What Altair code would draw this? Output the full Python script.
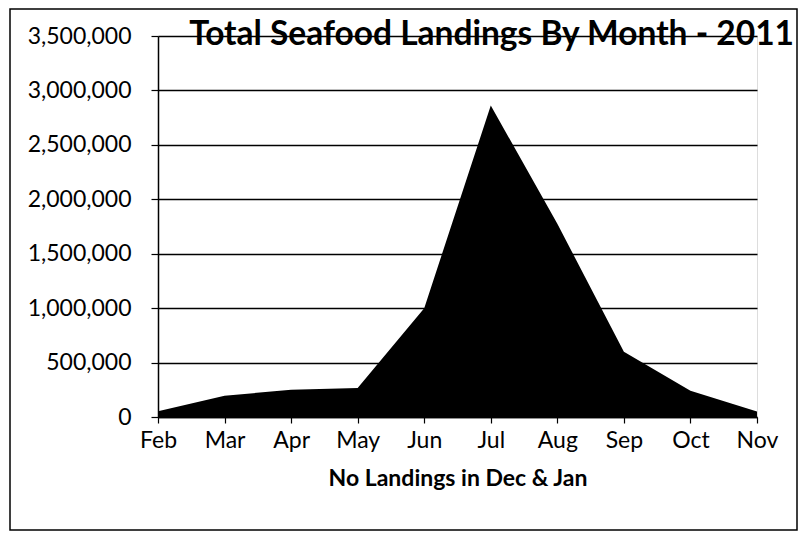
import altair as alt
import pandas as pd

months = ["Feb", "Mar", "Apr", "May", "Jun", "Jul", "Aug", "Sep", "Oct", "Nov"]
landings = [52000, 195000, 250000, 266000, 1000000, 2862000, 1775000, 600000, 240000, 50000]
y_ticks = [0, 500000, 1000000, 1500000, 2000000, 2500000, 3000000, 3500000]
title_text = "Total Seafood Landings By Month - 2011"
x_title = "No Landings in Dec & Jan"

FONT = "Lato"

df = pd.DataFrame({"month": months, "value": landings})

area = alt.Chart(df).mark_area(color="black", opacity=1, line=False).encode(
    x=alt.X(
        "month:O",
        sort=months,
        scale=alt.Scale(type="point", padding=0),
        axis=alt.Axis(
            title=x_title,
            labelAngle=0,
            labelFont=FONT,
            labelFontSize=23,
            labelColor="black",
            labelPadding=6,
            tickSize=6,
            tickColor="black",
            tickWidth=1.2,
            domainColor="black",
            domainWidth=1.5,
            titleFont=FONT,
            titleFontSize=23,
            titleFontWeight="bold",
            titleColor="black",
            titlePadding=15,
            grid=False,
        ),
    ),
    y=alt.Y(
        "value:Q",
        scale=alt.Scale(domain=[0, 3500000], nice=False, zero=True),
        axis=alt.Axis(
            title=None,
            values=y_ticks,
            format=",d",
            labelFont=FONT,
            labelFontSize=23,
            labelColor="black",
            labelPadding=20,
            tickSize=7,
            tickColor="black",
            tickWidth=1.2,
            domainColor="black",
            domainWidth=1.5,
            grid=True,
            gridColor="black",
            gridWidth=1.3,
            gridOpacity=1,
        ),
    ),
)

title_df = pd.DataFrame({"t": [title_text]})
title = alt.Chart(title_df).mark_text(
    align="right", baseline="alphabetic", font=FONT, fontSize=33.5, fontWeight="bold", color="black"
).encode(x=alt.value(636), y=alt.value(9), text="t:N")

border_df = pd.DataFrame({"b": [0]})
border = alt.Chart(border_df).mark_rect(
    fillOpacity=0, stroke="black", strokeWidth=1.5
).encode(x=alt.value(-148), x2=alt.value(639), y=alt.value(-27), y2=alt.value(494))

chart = alt.layer(area, title, border).properties(
    width=599,
    height=381,
    autosize=alt.AutoSizeParams(type="none"),
    padding={"left": 150, "top": 28, "right": 42, "bottom": 114},
).configure_view(stroke=None).configure(background="white")

chart.save("out.html", embed_options={"renderer": "svg", "actions": False})
